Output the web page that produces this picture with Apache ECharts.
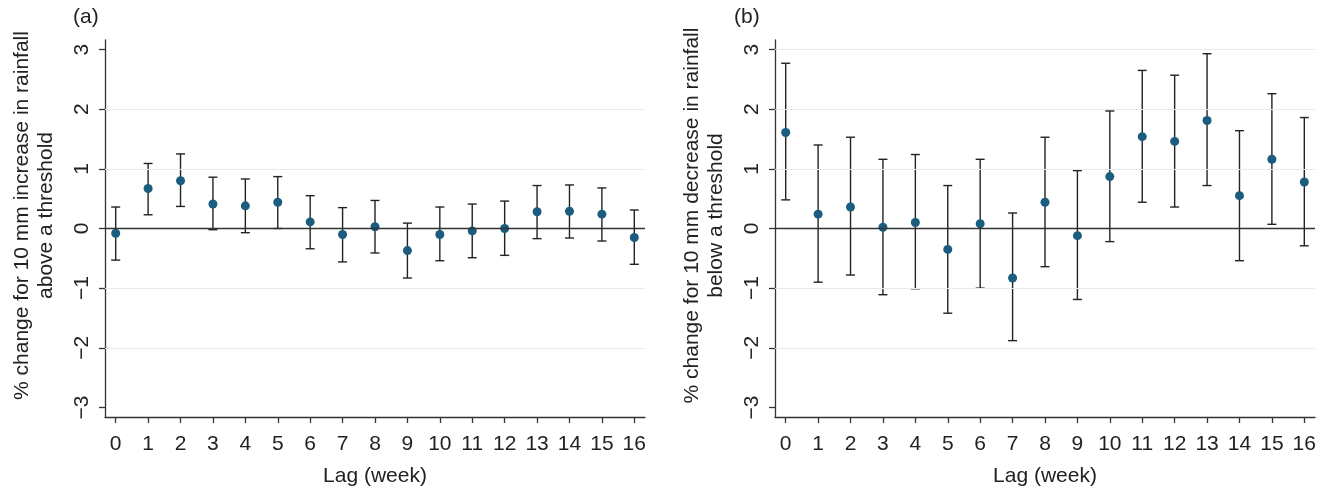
<!DOCTYPE html>
<html>
<head>
<meta charset="utf-8">
<script src="https://cdn.jsdelivr.net/npm/echarts@6/dist/echarts.min.js"></script>
<style>
html,body{margin:0;padding:0;background:#fff;}
#chart{width:1328px;height:492px;}
</style>
</head>
<body>
<div id="chart"></div>
<script>
// ---- data ----
const lags = [0, 1, 2, 3, 4, 5, 6, 7, 8, 9, 10, 11, 12, 13, 14, 15, 16];
const yTicks = [-3, -2, -1, 0, 1, 2, 3];

// panel (a): 10 mm increase in rainfall above a threshold
const estA = [-0.08, 0.67, 0.80, 0.41, 0.38, 0.44, 0.11, -0.10, 0.03, -0.37, -0.10, -0.04, 0.00, 0.28, 0.29, 0.24, -0.15];
const loA  = [-0.53, 0.23, 0.37, -0.02, -0.07, 0.00, -0.34, -0.56, -0.41, -0.83, -0.54, -0.49, -0.45, -0.17, -0.16, -0.21, -0.60];
const hiA  = [0.36, 1.09, 1.25, 0.86, 0.83, 0.87, 0.55, 0.35, 0.47, 0.09, 0.36, 0.41, 0.46, 0.72, 0.73, 0.68, 0.31];

// panel (b): 10 mm decrease in rainfall below a threshold
const estB = [1.61, 0.24, 0.36, 0.02, 0.10, -0.35, 0.08, -0.83, 0.44, -0.12, 0.87, 1.54, 1.46, 1.81, 0.55, 1.16, 0.78];
const loB  = [0.48, -0.90, -0.78, -1.11, -1.01, -1.42, -1.00, -1.88, -0.64, -1.19, -0.22, 0.44, 0.36, 0.72, -0.54, 0.07, -0.29];
const hiB  = [2.77, 1.40, 1.53, 1.16, 1.24, 0.72, 1.16, 0.26, 1.53, 0.97, 1.97, 2.65, 2.57, 2.93, 1.64, 2.26, 1.86];

const gridLinesA = [-2, -1, 1, 2];
const gridLinesB = [-2, -1, 1, 2, 3];

const titleA = '% change for 10 mm increase in rainfall\nabove a threshold';
const titleB = '% change for 10 mm decrease in rainfall\nbelow a threshold';
const xTitle = 'Lag (week)';

// ---- styling ----
const FONT = 'Liberation Sans, Arial, Helvetica, sans-serif';
const FS = 21;
const TXT = '#222';
const AXIS = '#333';
const DOT = '#1b5d7e';
const GRIDC = '#e3eaf0';

function xAxisCfg(idx) {
  return {
    type: 'value', gridIndex: idx, min: -0.33, max: 16.33,
    name: xTitle, nameLocation: 'middle', nameGap: 49,
    nameTextStyle: {fontFamily: FONT, fontSize: FS, color: TXT},
    axisLine: {onZero: false, lineStyle: {color: AXIS, width: 1.3}},
    axisTick: {customValues: lags, length: 6, lineStyle: {color: AXIS, width: 1.3}},
    axisLabel: {customValues: lags, fontFamily: FONT, fontSize: FS, color: TXT, margin: 17},
    splitLine: {show: false}
  };
}
function yAxisCfg(idx, name) {
  return {
    type: 'value', gridIndex: idx, min: -3.16, max: 3.16,
    name: name, nameLocation: 'middle', nameRotate: 90, nameGap: 47,
    nameTextStyle: {fontFamily: FONT, fontSize: FS, color: TXT, lineHeight: 24, padding: [0, 0, 0, 26]},
    axisLine: {onZero: false, lineStyle: {color: AXIS, width: 1.3}},
    axisTick: {customValues: yTicks, length: 6, lineStyle: {color: AXIS, width: 1.3}},
    axisLabel: {customValues: yTicks, rotate: 90, fontFamily: FONT, fontSize: FS, color: TXT, margin: 12,
      formatter: v => String(v).replace('-', '\u2212')},
    splitLine: {show: false}
  };
}

function errSeries(idx, lo, hi, gl) {
  return {
    type: 'custom', xAxisIndex: idx, yAxisIndex: idx, silent: true,
    data: lags.map((l, i) => [l, lo[i], hi[i]]),
    renderItem: function (params, api) {
      const x = api.value(0);
      const p1 = api.coord([x, api.value(1)]);
      const p2 = api.coord([x, api.value(2)]);
      const w = 4.5;
      const st = {stroke: '#222', lineWidth: 1.4};
      return {
        type: 'group',
        children: [
          {type: 'line', shape: {x1: p1[0], y1: p1[1], x2: p2[0], y2: p2[1]}, style: st},
          {type: 'line', shape: {x1: p1[0] - w, y1: p1[1], x2: p1[0] + w, y2: p1[1]}, style: st},
          {type: 'line', shape: {x1: p2[0] - w, y1: p2[1], x2: p2[0] + w, y2: p2[1]}, style: st}
        ]
      };
    },
    markLine: {
      silent: true, symbol: 'none', label: {show: false}, animation: false,
      data: gl.map(v => ({yAxis: v, lineStyle: {color: GRIDC, width: 1, type: 'solid'}}))
        .concat([{yAxis: 0, lineStyle: {color: '#333', width: 1.4, type: 'solid'}}])
    },
    z: 2
  };
}
function dotSeries(idx, est) {
  return {
    type: 'scatter', xAxisIndex: idx, yAxisIndex: idx,
    data: lags.map((l, i) => [l, est[i]]),
    symbol: 'circle', symbolSize: 9,
    itemStyle: {color: DOT, opacity: 1},
    z: 3
  };
}

const chart = echarts.init(document.getElementById('chart'), null, {renderer: 'canvas'});
chart.setOption({
  animation: false,
  backgroundColor: '#fff',
  title: [
    {text: '(a)', left: 73, top: 7, padding: 0, textStyle: {fontFamily: FONT, fontSize: FS, fontWeight: 'normal', color: TXT}},
    {text: '(b)', left: 734, top: 7, padding: 0, textStyle: {fontFamily: FONT, fontSize: FS, fontWeight: 'normal', color: TXT}}
  ],
  grid: [
    {left: 105, top: 40, width: 540, height: 382},
    {left: 775, top: 40, width: 540, height: 382}
  ],
  xAxis: [xAxisCfg(0), xAxisCfg(1)],
  yAxis: [yAxisCfg(0, titleA), yAxisCfg(1, titleB)],
  series: [
    errSeries(0, loA, hiA, gridLinesA), dotSeries(0, estA),
    errSeries(1, loB, hiB, gridLinesB), dotSeries(1, estB)
  ]
});
</script>
</body>
</html>
